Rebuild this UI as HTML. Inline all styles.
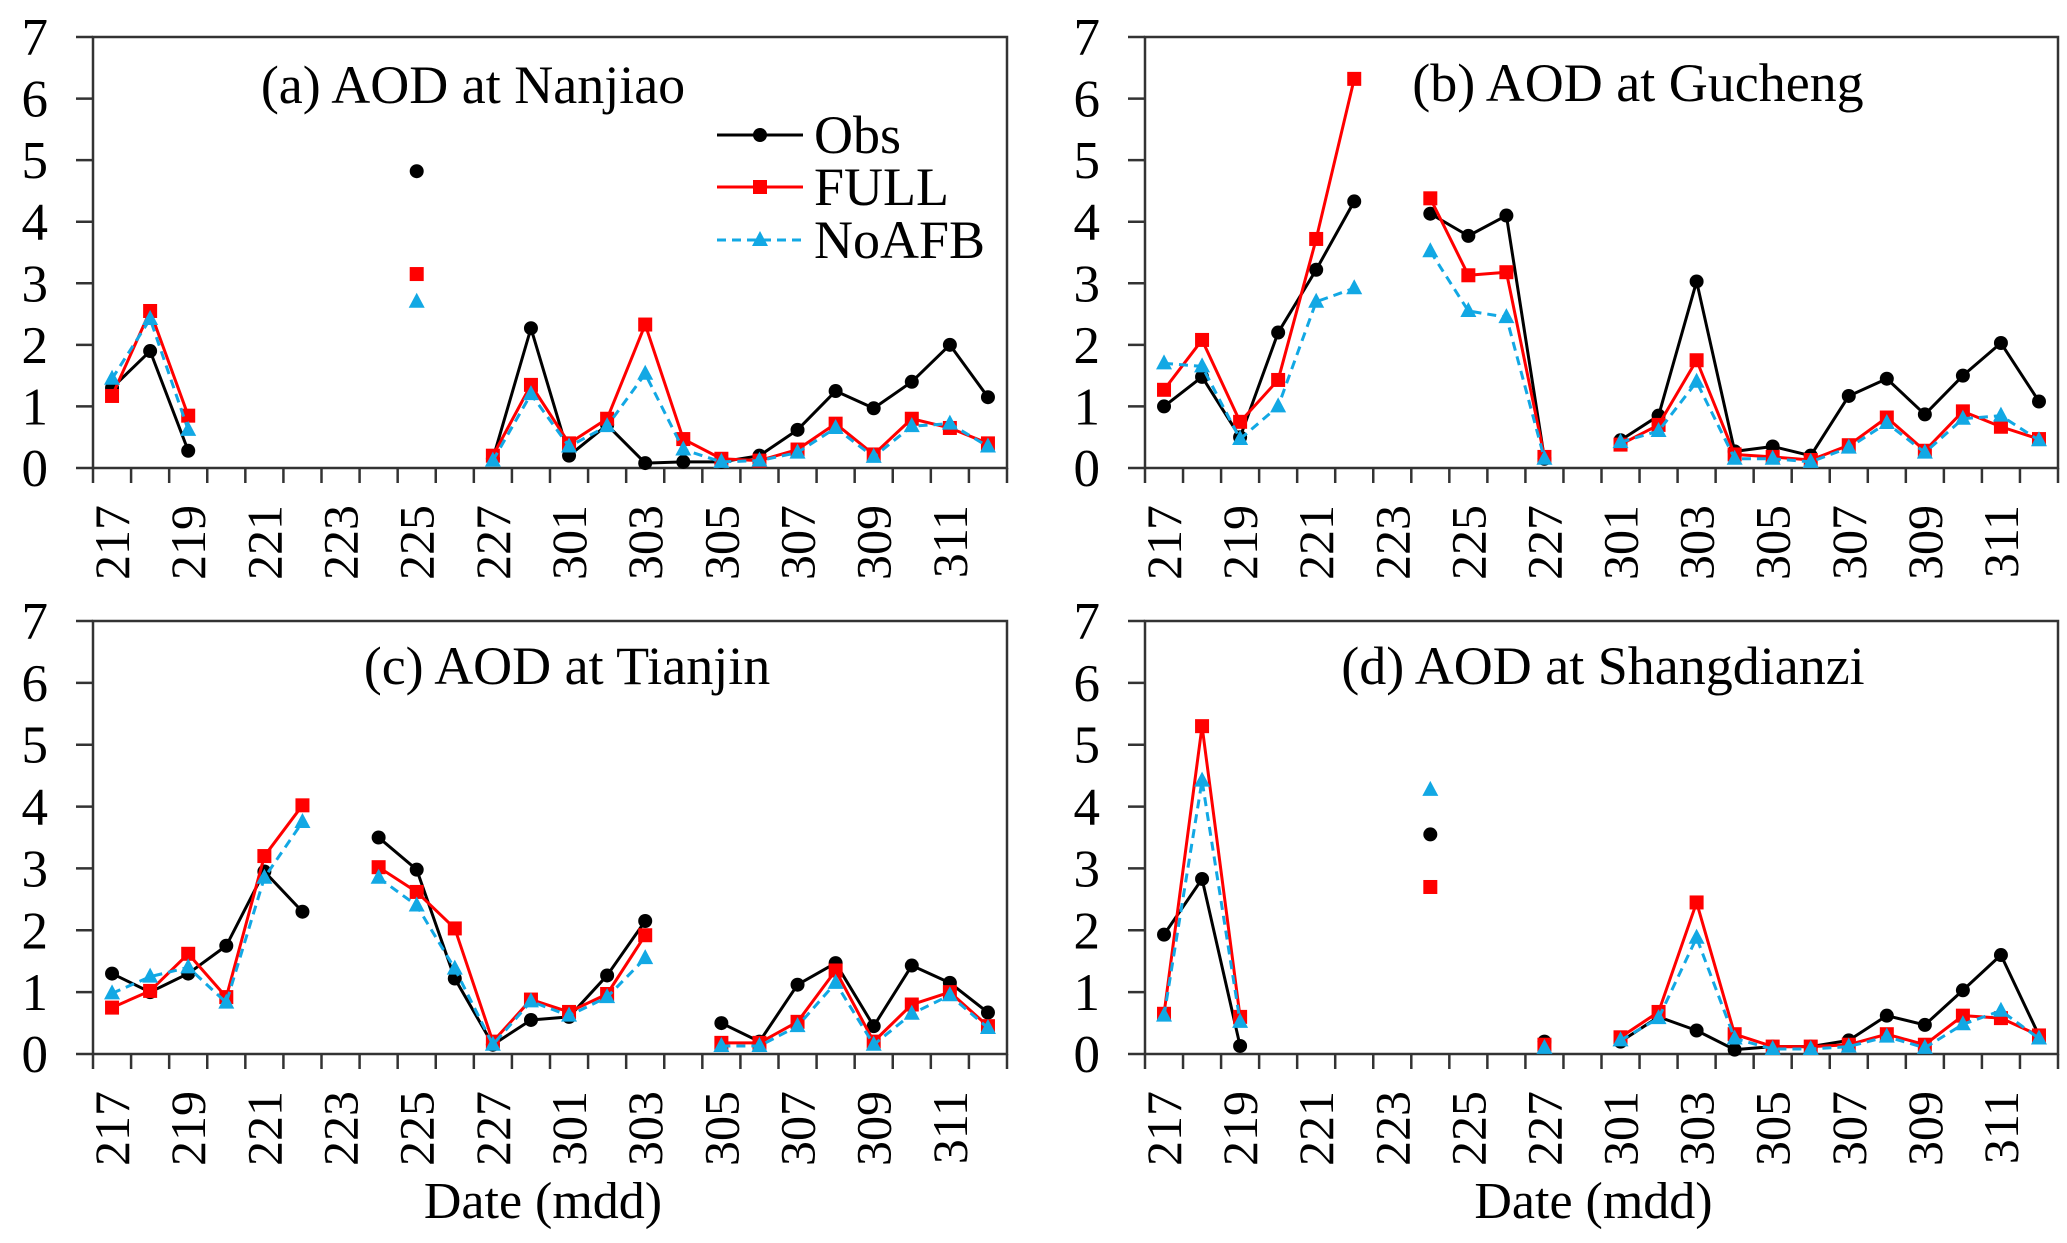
<!DOCTYPE html>
<html><head><meta charset="utf-8"><style>
html,body{margin:0;padding:0;background:#fff;}
svg{display:block;font-family:"Liberation Serif",serif;}
</style></head><body>
<svg id="chart" width="2067" height="1243" viewBox="0 0 2067 1243" xmlns="http://www.w3.org/2000/svg"></svg>
<script>
const categories=["217","218","219","220","221","222","223","224","225","226","227","228","301","302","303","304","305","306","307","308","309","310","311","312"];
const tickLabels=["217","219","221","223","225","227","301","303","305","307","309","311"];
const yTicks=[0,1,2,3,4,5,6,7];
const N=null;
const obsA=[1.3,1.9,0.28,N,N,N,N,N,4.82,N,0.15,2.27,0.2,0.7,0.08,0.1,0.1,0.2,0.62,1.25,0.97,1.4,2.0,1.15];
const fullA=[1.17,2.55,0.85,N,N,N,N,N,3.15,N,0.2,1.35,0.4,0.8,2.33,0.47,0.15,0.12,0.3,0.72,0.22,0.8,0.65,0.4];
const noafbA=[1.45,2.42,0.62,N,N,N,N,N,2.7,N,0.12,1.2,0.35,0.68,1.53,0.3,0.1,0.12,0.25,0.65,0.18,0.68,0.72,0.35];
const obsB=[1.0,1.48,0.5,2.2,3.22,4.33,N,4.13,3.77,4.1,0.15,N,0.45,0.85,3.03,0.27,0.35,0.2,1.17,1.45,0.87,1.5,2.03,1.08];
const fullB=[1.27,2.08,0.75,1.43,3.72,6.32,N,4.38,3.13,3.18,0.18,N,0.38,0.7,1.75,0.22,0.18,0.13,0.37,0.82,0.28,0.92,0.67,0.47];
const noafbB=[1.7,1.65,0.47,1.0,2.7,2.92,N,3.52,2.55,2.45,0.15,N,0.42,0.6,1.4,0.15,0.15,0.1,0.33,0.73,0.25,0.8,0.85,0.45];
const obsC=[1.3,1.0,1.3,1.75,2.95,2.3,N,3.5,2.98,1.22,0.15,0.55,0.6,1.27,2.15,N,0.5,0.2,1.12,1.47,0.45,1.43,1.15,0.67];
const fullC=[0.75,1.02,1.62,0.92,3.2,4.02,N,3.02,2.62,2.03,0.2,0.88,0.68,0.97,1.92,N,0.18,0.18,0.52,1.35,0.2,0.8,1.0,0.45];
const noafbC=[0.98,1.25,1.4,0.83,2.85,3.75,N,2.85,2.4,1.38,0.15,0.85,0.62,0.92,1.55,N,0.13,0.13,0.45,1.15,0.15,0.65,0.95,0.42];
const obsD=[1.93,2.83,0.13,N,N,N,N,3.55,N,N,0.2,N,0.2,0.6,0.38,0.07,0.12,0.12,0.22,0.62,0.47,1.03,1.6,0.3];
const fullD=[0.65,5.3,0.6,N,N,N,N,2.7,N,N,0.15,N,0.27,0.68,2.45,0.32,0.12,0.12,0.15,0.32,0.15,0.62,0.58,0.3];
const noafbD=[0.62,4.42,0.52,N,N,N,N,4.27,N,N,0.1,N,0.22,0.58,1.88,0.25,0.08,0.08,0.12,0.28,0.1,0.48,0.7,0.25];
const titles=["(a) AOD at Nanjiao","(b) AOD at Gucheng","(c) AOD at Tianjin","(d) AOD at Shangdianzi"];

const svg=document.getElementById('chart');
const NS='http://www.w3.org/2000/svg';
function mk(tag,attrs,parent){const e=document.createElementNS(NS,tag);for(const k in attrs)e.setAttribute(k,attrs[k]);(parent||svg).appendChild(e);return e;}

const panels=[
 {id:'a',L:93,R:1007,T:37,B:468,lab:48,series:[obsA,fullA,noafbA],tx:473,ty:103,date:false},
 {id:'b',L:1145,R:2058,T:37,B:468,lab:1100,series:[obsB,fullB,noafbB],tx:1638,ty:101,date:false},
 {id:'c',L:93,R:1007,T:621,B:1054,lab:48,series:[obsC,fullC,noafbC],tx:567,ty:684,date:true},
 {id:'d',L:1145,R:2058,T:621,B:1054,lab:1100,series:[obsD,fullD,noafbD],tx:1603,ty:684,date:true}
];
const styles=[
 {name:'obs',color:'#000',dash:null,marker:'circle'},
 {name:'full',color:'#ff0000',dash:null,marker:'square'},
 {name:'noafb',color:'#12a8e4',dash:'9,6',marker:'triangle'}
];
function drawMarker(g,type,x,y,color){
  let m;
  if(type==='circle'){m=mk('circle',{cx:x,cy:y,r:7,fill:color},g);}
  else if(type==='square'){m=mk('rect',{x:x-7,y:y-7,width:14,height:14,fill:color},g);}
  else {m=mk('polygon',{points:`${x},${y-9} ${x-8},${y+6} ${x+8},${y+6}`,fill:color},g);}
  
  
}
panels.forEach((p,pi)=>{
  const g=mk('g',{});
  
  
  const cw=(p.R-p.L)/categories.length;
  const xs=i=>p.L+cw*(i+0.5);
  const ys=v=>p.B-(p.B-p.T)*v/7;
  const fr=mk('rect',{x:p.L,y:p.T,width:p.R-p.L,height:p.B-p.T,fill:'none',stroke:'#333','stroke-width':2.5},g);
  
  
  yTicks.forEach(v=>{
    mk('line',{x1:p.L-17,x2:p.L,y1:ys(v),y2:ys(v),stroke:'#333','stroke-width':2.5},g);
    const t=mk('text',{x:p.lab,y:ys(v)+18,'text-anchor':'end','font-size':53,fill:'#000'},g);
    t.textContent=v;
    
    
  });
  for(let i=0;i<=categories.length;i++){
    const x=p.L+cw*i;
    mk('line',{x1:x,x2:x,y1:p.B,y2:p.B+15,stroke:'#333','stroke-width':2.5},g);
  }
  categories.forEach((c,i)=>{
    if(tickLabels.indexOf(c)<0)return;
    const x=xs(i)+17,y=p.B+37;
    const t=mk('text',{x:x,y:y,'text-anchor':'end','font-size':50,fill:'#000',transform:`rotate(-90 ${x} ${y})`},g);
    t.textContent=c;
    
    
  });
  const tt=mk('text',{x:p.tx,y:p.ty,'text-anchor':'middle','font-size':54,fill:'#000'},g);
  tt.textContent=titles[pi];
  
  
  if(p.date){
    const dl=mk('text',{x:(p.L+p.R)/2+(pi===2?-7:-8),y:1218,'text-anchor':'middle','font-size':52,fill:'#000'},g);
    dl.textContent='Date (mdd)';
    
    
  }
  p.series.forEach((arr,si)=>{
    const st=styles[si];
    const sg=mk('g',{},g);
    
    
    let seg=[];
    const flush=()=>{
      if(seg.length>1){
        const l=mk('polyline',{points:seg.join(' '),fill:'none',stroke:st.color,'stroke-width':3,'stroke-linejoin':'round'},sg);
        if(st.dash)l.setAttribute('stroke-dasharray',st.dash);
        
        
      }
      seg=[];
    };
    arr.forEach((v,i)=>{ if(v===null){flush();} else seg.push(xs(i)+','+ys(v)); });
    flush();
    arr.forEach((v,i)=>{ if(v!==null) drawMarker(sg,st.marker,xs(i),ys(v),st.color); });
  });
});
const lg=mk('g',{});


const legendNames=["Obs","FULL","NoAFB"];
const legendY=[135,187,240];
legendNames.forEach((n,i)=>{
  const st=styles[i];
  const e=mk('g',{},lg);
  
  
  const l=mk('line',{x1:717,x2:803,y1:legendY[i],y2:legendY[i],stroke:st.color,'stroke-width':3},e);
  if(st.dash)l.setAttribute('stroke-dasharray',st.dash);
  drawMarker(e,st.marker,760,legendY[i],st.color);
  const t=mk('text',{x:814,y:legendY[i]+18,'font-size':54,fill:'#000'},e);
  t.textContent=n;
});
</script>
</body></html>
